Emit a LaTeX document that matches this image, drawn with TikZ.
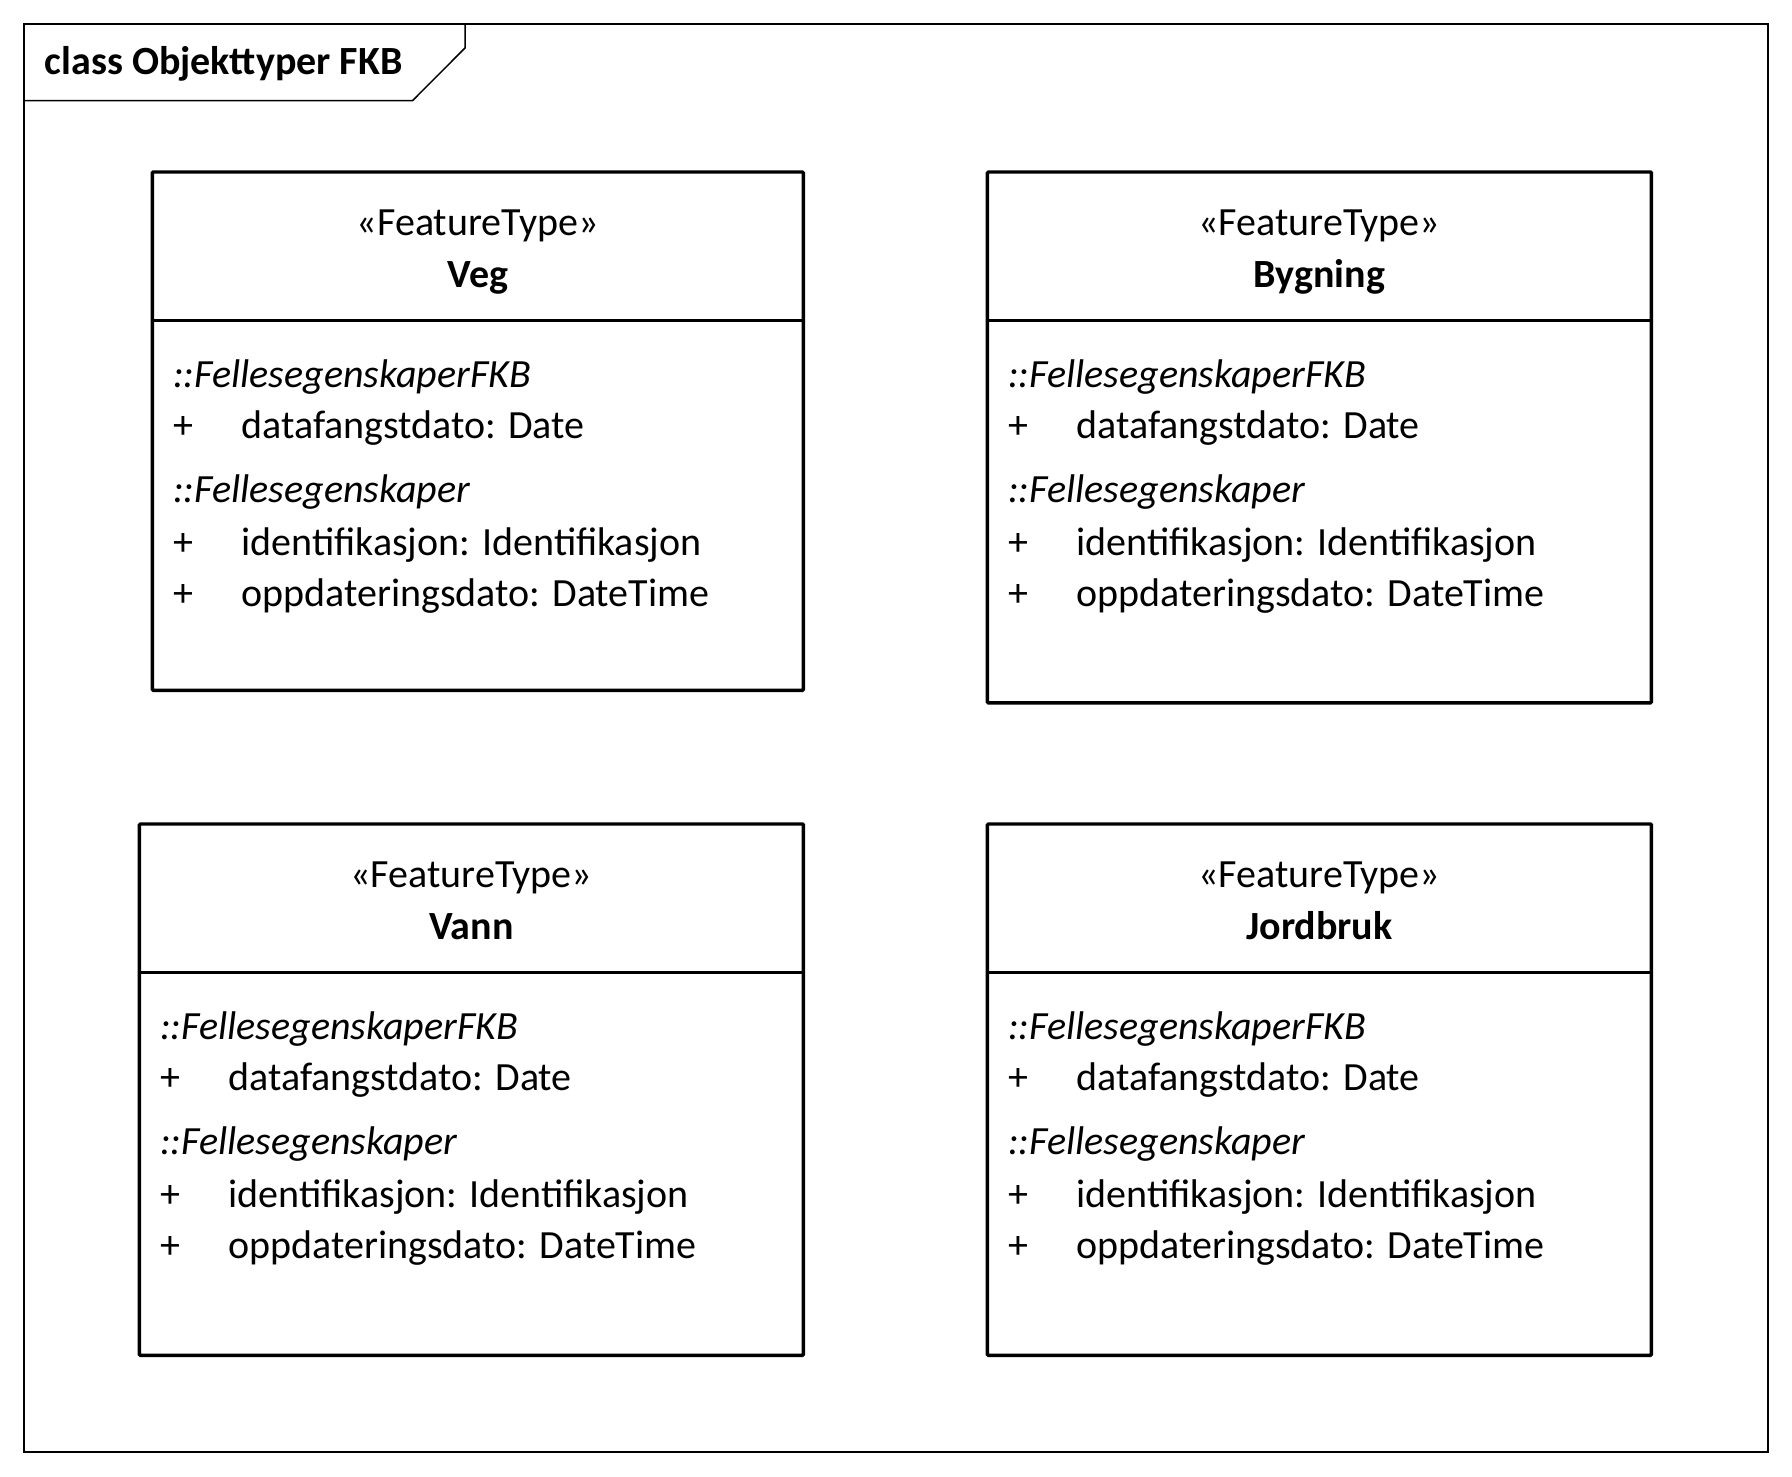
\documentclass[tikz,border=0pt]{standalone}
\usepackage{fontspec}
\setmainfont{Carlito}
\tikzset{
  frameline/.style={line width=1.5pt, draw=black},
  classbox/.style={draw=black, line width=3.4pt, anchor=north west, inner sep=0pt, outer sep=0pt, rounded corners=1pt},
  divline/.style={line width=3.4pt, draw=black},
  stereo/.style={anchor=base, inner sep=0pt, font=\fontsize{40}{48}\selectfont},
  cname/.style={anchor=base, inner sep=0pt, font=\fontsize{40}{48}\selectfont\bfseries},
  attr/.style={anchor=base west, inner sep=0pt, font=\fontsize{40}{48}\selectfont},
  grp/.style={anchor=base west, inner sep=0pt, font=\fontsize{40}{48}\selectfont\itshape},
  title/.style={anchor=base west, inner sep=0pt, font=\fontsize{40}{48}\selectfont\bfseries}
}
% #1 node name, #2 left x, #3 top y, #4 width, #5 height, #6 class name
\newcommand{\umlclassbox}[6]{%
  \node[classbox, minimum width=#4pt, minimum height=#5pt] (#1) at (#2,#3) {};
  \begin{scope}[shift={(#2,#3)}]
    \draw[divline] (0,148.6) -- (#4,148.6);
    \node[stereo] (#1-st) at (#4/2,234.7-171.4) {«FeatureType»};
    \node[cname] (#1-nm) at (#4/2,287.3-171.4) {#6};
    \node[grp] (#1-g1) at (20.6,386.7-171.4) {::FellesegenskaperFKB};
    \node[attr] (#1-p1) at (20.6,438.1-171.4) {+};
    \node[attr] (#1-a1) at (89,438.1-171.4) {datafangstdato: Date};
    \node[grp] (#1-g2) at (20.6,502.1-171.4) {::Fellesegenskaper};
    \node[attr] (#1-p2) at (20.6,554.7-171.4) {+};
    \node[attr] (#1-a2) at (89,554.7-171.4) {identifikasjon: Identifikasjon};
    \node[attr] (#1-p3) at (20.6,606.1-171.4) {+};
    \node[attr] (#1-a3) at (89,606.1-171.4) {oppdateringsdato: DateTime};
  \end{scope}%
}
\begin{document}
\begin{tikzpicture}[x=1pt,y=-1pt]
  \useasboundingbox[fill=white] (0,0) rectangle (1792,1476);
  % diagram frame
  \draw[frameline] (24,24) rectangle (1768,1452);
  \draw[frameline] (24,100.6) -- (412.6,100.6) -- (465,48) -- (465,24);
  \node[title] (frametitle) at (44.6,74.7) {class Objekttyper FKB};
  % classes
  \umlclassbox{veg}{152.3}{172}{651}{518.3}{Veg}
  \umlclassbox{bygning}{987.4}{172}{664}{530.9}{Bygning}
  \umlclassbox{vann}{139.4}{824}{664}{531.4}{Vann}
  \umlclassbox{jordbruk}{987.4}{824}{664}{531.4}{Jordbruk}
\end{tikzpicture}
\end{document}
